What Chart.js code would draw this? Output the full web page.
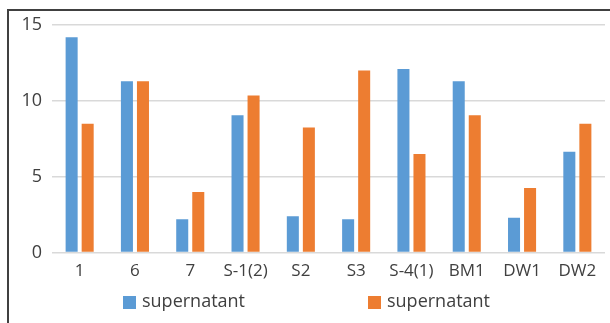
<!DOCTYPE html>
<html lang="en">
<head>
    <meta charset="UTF-8">
    <title>supernatant</title>
    <style>
        html, body {
            margin: 0;
            padding: 0;
            background: #fff;
            overflow: hidden;
        }
        #wrap {
            position: relative;
            width: 610px;
            height: 323px;
        }
        #frame {
            position: absolute;
            left: 7px;
            top: 9px;
            width: 700px;
            height: 400px;
            border-left: 2px solid #404040;
            border-top: 2px solid #404040;
        }
        canvas {
            position: absolute;
            left: 0;
            top: 0;
        }
    </style>
    <script src="https://cdn.jsdelivr.net/npm/chart.js"></script>
</head>
<body>
    <div id="wrap">
        <div id="frame"></div>
        <canvas id="chart" width="610" height="323"></canvas>
    </div>

    <script>
        const categories = ['1', '6', '7', 'S-1(2)', 'S2', 'S3', 'S-4(1)', 'BM1', 'DW1', 'DW2'];
        const seriesA = [14.2, 11.3, 2.2, 9.05, 2.4, 2.2, 12.1, 11.3, 2.3, 6.65];
        const seriesB = [8.5, 11.3, 4.0, 10.35, 8.25, 12.0, 6.5, 9.05, 4.25, 8.5];
        const seriesNames = ['supernatant', 'supernatant'];
        const yTicks = [0, 5, 10, 15];

        const font = "'Open Sans', 'DejaVu Sans', sans-serif";
        const textColor = '#404040';
        const colors = ['#5B9BD5', '#ED7D31'];

        // legend drawn by hand, items spread wide like the original
        const spreadLegend = {
            id: 'spreadLegend',
            afterDraw(chart) {
                const ctx = chart.ctx;
                const y = 302;
                const starts = [123, 368];
                ctx.save();
                ctx.font = '18px ' + font;
                ctx.textBaseline = 'middle';
                chart.data.datasets.forEach((ds, i) => {
                    ctx.fillStyle = ds.backgroundColor;
                    ctx.fillRect(starts[i], y - 6, 13, 13);
                    ctx.fillStyle = textColor;
                    ctx.fillText(ds.label, starts[i] + 19, y);
                });
                ctx.restore();
            }
        };

        new Chart(document.getElementById('chart'), {
            type: 'bar',
            data: {
                labels: categories,
                datasets: [
                    { label: seriesNames[0], data: seriesA, backgroundColor: colors[0] },
                    { label: seriesNames[1], data: seriesB, backgroundColor: colors[1] }
                ]
            },
            options: {
                responsive: false,
                animation: false,
                categoryPercentage: 0.58,
                barPercentage: 0.75,
                layout: {
                    padding: { top: 25, right: 5, bottom: 42, left: 0 }
                },
                plugins: {
                    legend: { display: false },
                    tooltip: { enabled: false }
                },
                scales: {
                    x: {
                        grid: { display: false },
                        border: { display: false },
                        ticks: {
                            color: textColor,
                            font: { family: font, size: 17 },
                            padding: 0,
                            maxRotation: 0,
                            autoSkip: false
                        }
                    },
                    y: {
                        min: 0,
                        max: 15,
                        afterFit(scale) { scale.width = 52; },
                        afterBuildTicks(scale) {
                            scale.ticks = yTicks.map(v => ({ value: v }));
                        },
                        grid: {
                            color: '#d9d9d9',
                            lineWidth: 1.5,
                            drawTicks: false
                        },
                        border: { display: false },
                        ticks: {
                            color: textColor,
                            font: { family: font, size: 18 },
                            padding: 10
                        }
                    }
                }
            },
            plugins: [spreadLegend]
        });
    </script>
</body>
</html>
